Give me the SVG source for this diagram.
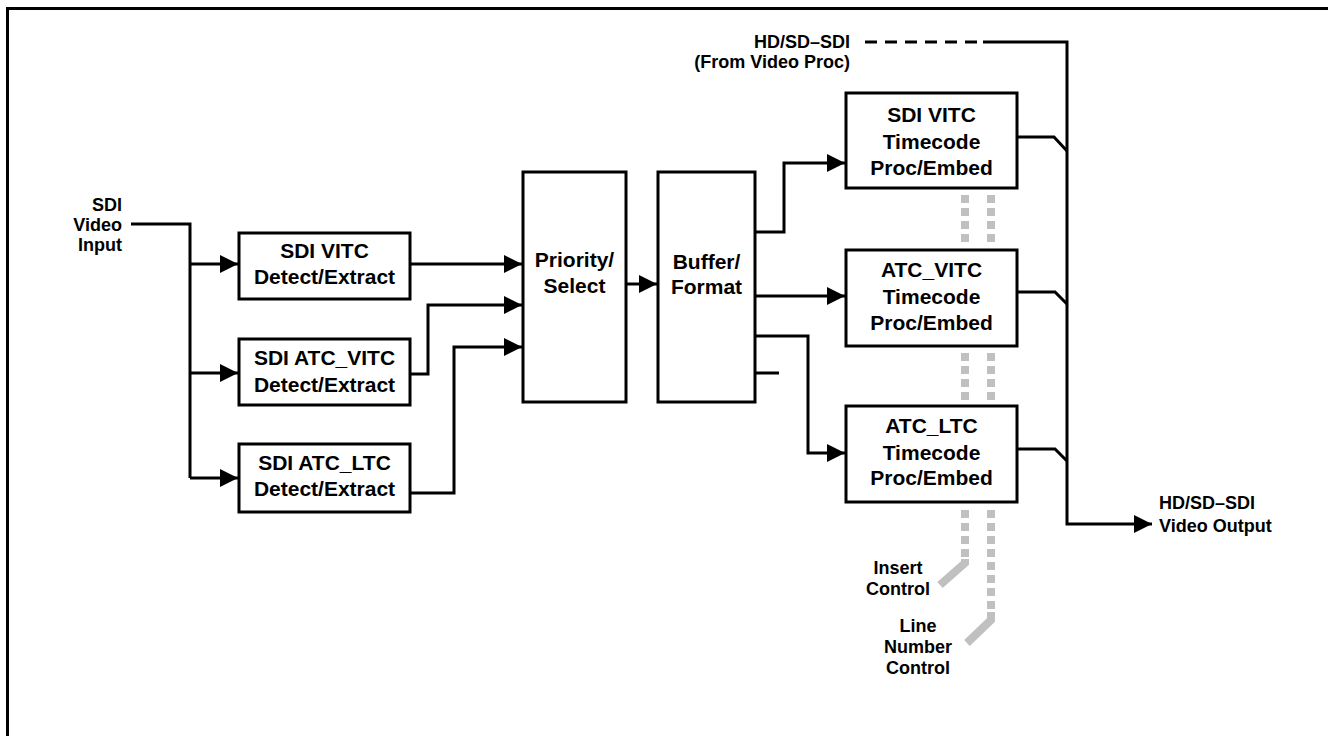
<svg xmlns="http://www.w3.org/2000/svg" width="1328" height="736" viewBox="0 0 1328 736">
<style>
.box{fill:#fff;stroke:#000;stroke-width:3}
.ln{fill:none;stroke:#000;stroke-width:3}
.arr{fill:none;stroke:#000;stroke-width:3;marker-end:url(#ah)}
.gd{fill:none;stroke:#c0c0c0;stroke-width:8;stroke-dasharray:8 5}
.gs{fill:none;stroke:#c0c0c0;stroke-width:8}
.t{font-family:"Liberation Sans",Arial,sans-serif;font-weight:bold;font-size:21px;fill:#000;text-anchor:middle}
.s{font-family:"Liberation Sans",Arial,sans-serif;font-weight:bold;font-size:18px;fill:#000}
</style>
<defs>
<marker id="ah" viewBox="0 0 18 18" refX="18" refY="9" markerWidth="18" markerHeight="18" markerUnits="userSpaceOnUse" orient="auto">
<path d="M0,0 L18,9 L0,18 z" fill="#000"/>
</marker>
</defs>
<rect width="1328" height="736" fill="#fff"/>
<path class="ln" d="M7.5,736 V8.5 H1328"/>

<g id="connectors">
<path class="ln" d="M131,224 H190 V478"/>
<path class="arr" d="M190,264 H238"/>
<path class="arr" d="M190,373 H238"/>
<path class="arr" d="M190,478 H238"/>
<path class="arr" d="M410,264 H522"/>
<path class="arr" d="M410,374 H428 V305 H522"/>
<path class="arr" d="M410,493 H454 V347 H522"/>
<path class="arr" d="M626,284 H657"/>
<path class="arr" d="M755,232 H784 V163 H845"/>
<path class="arr" d="M755,296 H845"/>
<path class="arr" d="M755,336 H808 V453 H845"/>
<path class="ln" d="M755,373 H779"/>
<path class="ln" d="M865,42 H980" stroke-dasharray="12 8"/>
<path class="arr" d="M983,42 H1067 V524 H1152"/>
<path class="ln" d="M1017,137 H1054 L1067,151"/>
<path class="ln" d="M1017,292 H1055 L1067,304"/>
<path class="ln" d="M1017,449 H1055 L1067,461"/>
<path class="gd" d="M965,195 V242"/>
<path class="gd" d="M991,195 V242"/>
<path class="gd" d="M965,353 V400"/>
<path class="gd" d="M991,353 V400"/>
<path class="gd" d="M965,510 V560"/>
<path class="gs" d="M965,559 V563 L940,585"/>
<path class="gd" d="M991,510 V612"/>
<path class="gs" d="M991,612 V620 L967,643"/>
</g>

<g id="sdi-input-label">
<text class="s" text-anchor="end" x="122" y="211">SDI</text>
<text class="s" text-anchor="end" x="122" y="231">Video</text>
<text class="s" text-anchor="end" x="122" y="251">Input</text>
</g>

<g id="vitc-detect">
<rect class="box" x="239" y="233" width="171" height="66"/>
<text class="t" x="324.5" y="258">SDI VITC</text>
<text class="t" x="324.5" y="284">Detect/Extract</text>
</g>
<g id="atcvitc-detect">
<rect class="box" x="239" y="339" width="171" height="66"/>
<text class="t" x="324.5" y="365">SDI ATC_VITC</text>
<text class="t" x="324.5" y="392">Detect/Extract</text>
</g>
<g id="atcltc-detect">
<rect class="box" x="239" y="444" width="171" height="68"/>
<text class="t" x="324.5" y="470">SDI ATC_LTC</text>
<text class="t" x="324.5" y="496">Detect/Extract</text>
</g>

<g id="priority">
<rect class="box" x="523" y="172" width="103" height="230"/>
<text class="t" x="574.5" y="267">Priority/</text>
<text class="t" x="574.5" y="293">Select</text>
</g>
<g id="buffer">
<rect class="box" x="658" y="172" width="97" height="230"/>
<text class="t" x="706.5" y="269">Buffer/</text>
<text class="t" x="706.5" y="294">Format</text>
</g>

<g id="vitc-embed">
<rect class="box" x="846" y="93" width="171" height="95"/>
<text class="t" x="931.5" y="122">SDI VITC</text>
<text class="t" x="931.5" y="149">Timecode</text>
<text class="t" x="931.5" y="175">Proc/Embed</text>
</g>
<g id="atcvitc-embed">
<rect class="box" x="846" y="250" width="171" height="96"/>
<text class="t" x="931.5" y="277">ATC_VITC</text>
<text class="t" x="931.5" y="304">Timecode</text>
<text class="t" x="931.5" y="330">Proc/Embed</text>
</g>
<g id="atcltc-embed">
<rect class="box" x="846" y="406" width="171" height="96"/>
<text class="t" x="931.5" y="433">ATC_LTC</text>
<text class="t" x="931.5" y="460">Timecode</text>
<text class="t" x="931.5" y="485">Proc/Embed</text>
</g>

<g id="video-proc-label">
<text class="s" text-anchor="end" x="850" y="48">HD/SD–SDI</text>
<text class="s" text-anchor="end" x="850" y="68">(From Video Proc)</text>
</g>
<g id="output-label">
<text class="s" x="1159" y="509">HD/SD–SDI</text>
<text class="s" x="1159" y="532">Video Output</text>
</g>
<g id="insert-control">
<text class="s" text-anchor="middle" x="898" y="574">Insert</text>
<text class="s" text-anchor="middle" x="898" y="595">Control</text>
</g>
<g id="line-number-control">
<text class="s" text-anchor="middle" x="918" y="632">Line</text>
<text class="s" text-anchor="middle" x="918" y="653">Number</text>
<text class="s" text-anchor="middle" x="918" y="674">Control</text>
</g>
</svg>
